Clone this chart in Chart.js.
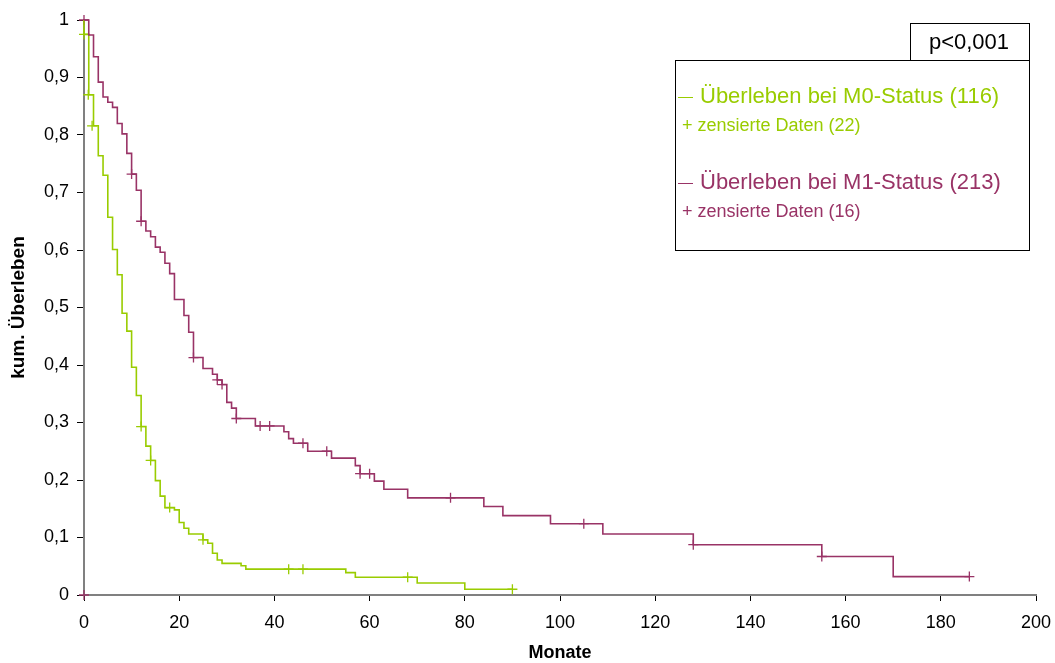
<!DOCTYPE html>
<html>
<head>
<meta charset="utf-8">
<script src="https://cdn.jsdelivr.net/npm/chart.js@4"></script>
<style>
  body { margin: 0; background: #fff; }
  #wrap { width: 1055px; height: 663px; }
</style>
</head>
<body>
<div id="wrap"><canvas id="chart1" width="1055" height="663"></canvas></div>
<script>
// Kaplan-Meier steps (months, cumulative survival after the step)
const m0Months = [0, 0, 1, 2, 3, 4, 5, 6, 7, 8, 9, 10, 11, 12, 13, 14, 15, 16, 17, 19, 20, 21, 22, 25, 26, 27, 28, 29, 33, 34, 55, 57, 70, 80, 90];
const m0Survival = [1, 0.975, 0.870, 0.816, 0.764, 0.730, 0.657, 0.601, 0.557, 0.490, 0.459, 0.396, 0.347, 0.293, 0.259, 0.234, 0.199, 0.172, 0.152, 0.148, 0.126, 0.116, 0.106, 0.096, 0.090, 0.0725, 0.061, 0.055, 0.051, 0.045, 0.039, 0.031, 0.021, 0.010, 0.010];
const m0CensorMonths = [0, 0.9, 1.7, 12, 14, 18, 25, 43, 46, 68, 90];
const m0CensorSurvival = [0.975, 0.870, 0.816, 0.293, 0.234, 0.152, 0.096, 0.045, 0.045, 0.031, 0.010];

const m1Months = [0, 1, 2, 3, 4, 5, 6, 7, 8, 9, 10, 11, 12, 13, 14, 15, 16, 17, 18, 19, 21, 22, 23, 25, 27, 28, 29, 30, 31, 32, 36, 42, 43, 44, 47, 52, 57, 58, 61, 63, 68, 84, 88, 98, 109, 128, 155, 170, 186];
const m1Survival = [1, 0.974, 0.936, 0.892, 0.866, 0.857, 0.848, 0.820, 0.802, 0.768, 0.732, 0.704, 0.650, 0.633, 0.623, 0.605, 0.596, 0.577, 0.559, 0.514, 0.486, 0.457, 0.413, 0.394, 0.384, 0.374, 0.366, 0.335, 0.325, 0.307, 0.294, 0.284, 0.272, 0.264, 0.250, 0.238, 0.225, 0.211, 0.198, 0.184, 0.169, 0.154, 0.138, 0.124, 0.106, 0.0875, 0.067, 0.032, 0.032];
const m1CensorMonths = [0, 0, 10, 12, 23, 28, 29, 32, 37, 39, 46, 51, 58, 60, 77, 105, 128, 155, 186];
const m1CensorSurvival = [1, 0, 0.732, 0.650, 0.413, 0.374, 0.366, 0.307, 0.294, 0.294, 0.264, 0.250, 0.211, 0.211, 0.169, 0.124, 0.0875, 0.067, 0.032];

const legendLines = [
  { main: 'Überleben bei M0-Status (116)', censor: '+ zensierte Daten (22)' },
  { main: 'Überleben bei M1-Status (213)', censor: '+ zensierte Daten (16)' }
];
const pValueText = 'p<0,001';

const GREEN = '#99cc00';
const PURPLE = '#993366';
const FONT = '"Liberation Sans", Arial, sans-serif';

function toPoints(xs, ys) {
  return xs.map((x, i) => ({ x: x, y: ys[i] }));
}

function stepSet(xs, ys, color) {
  return {
    type: 'line',
    data: toPoints(xs, ys),
    borderColor: color,
    borderWidth: 1.6,
    stepped: 'before',
    pointRadius: 0,
    fill: false,
    clip: false
  };
}

function censorSet(xs, ys, color) {
  return {
    type: 'scatter',
    data: toPoints(xs, ys),
    showLine: false,
    pointStyle: 'cross',
    pointRadius: 5,
    borderColor: color,
    borderWidth: 1.3,
    clip: false
  };
}

// legend box and p-value box, drawn like the original figure
const boxPlugin = {
  id: 'boxes',
  afterDraw(chart) {
    const ctx = chart.ctx;
    ctx.save();
    ctx.strokeStyle = '#000';
    ctx.lineWidth = 1;
    ctx.strokeRect(910.5, 23.5, 119, 37);
    ctx.strokeRect(675.5, 60.5, 354, 190);

    ctx.fillStyle = '#000';
    ctx.textBaseline = 'alphabetic';
    ctx.textAlign = 'center';
    ctx.font = '22px ' + FONT;
    ctx.fillText(pValueText, 969, 49);

    ctx.textAlign = 'left';
    const colors = [GREEN, PURPLE];
    const rows = [[97, 102.5, 131], [183, 188.5, 217]];
    legendLines.forEach((item, i) => {
      const [lineY, mainY, censorY] = rows[i];
      ctx.strokeStyle = colors[i];
      ctx.fillStyle = colors[i];
      ctx.lineWidth = 1;
      ctx.beginPath();
      ctx.moveTo(678, lineY + 0.5);
      ctx.lineTo(693, lineY + 0.5);
      ctx.stroke();
      ctx.font = '22px ' + FONT;
      ctx.fillText(item.main, 700, mainY);
      ctx.font = '18px ' + FONT;
      ctx.fillText(item.censor, 682, censorY);
    });
    ctx.restore();
  }
};

function formatY(v) {
  const r = Math.round(v * 10) / 10;
  if (r === 0) return '0';
  if (r === 1) return '1';
  return r.toFixed(1).replace('.', ',');
}

Chart.defaults.font.family = FONT;
Chart.defaults.color = '#000';

const survivalChart = new Chart(document.getElementById('chart1'), {
  data: {
    datasets: [
      stepSet(m1Months, m1Survival, PURPLE),
      stepSet(m0Months, m0Survival, GREEN),
      censorSet(m1CensorMonths, m1CensorSurvival, PURPLE),
      censorSet(m0CensorMonths, m0CensorSurvival, GREEN)
    ]
  },
  options: {
    responsive: false,
    animation: false,
    layout: { padding: { top: 20, right: 0, left: 0, bottom: 0 } },
    scales: {
      x: {
        type: 'linear',
        min: 0,
        max: 200,
        ticks: { stepSize: 20, font: { size: 18 }, padding: 11, maxRotation: 0 },
        grid: { drawOnChartArea: false, tickLength: 6, tickColor: '#000' },
        border: { color: '#808080', width: 2 },
        title: { display: true, text: 'Monate', font: { size: 18, weight: 'bold', lineHeight: 1 }, padding: { top: 0, bottom: 1 } },
        afterFit: (scale) => {
          scale.height = 68;
          scale.paddingRight = 19;
        }
      },
      y: {
        type: 'linear',
        min: 0,
        max: 1,
        ticks: { stepSize: 0.1, font: { size: 18 }, padding: 8, callback: formatY },
        grid: { drawOnChartArea: false, tickLength: 7, tickColor: '#000' },
        border: { color: '#808080', width: 2 },
        title: { display: true, text: 'kum. Überleben', font: { size: 19, weight: 'bold', lineHeight: 1 }, padding: { top: 9, bottom: 0 } },
        afterFit: (scale) => { scale.width = 84; }
      }
    },
    plugins: {
      legend: { display: false },
      tooltip: { enabled: false }
    }
  },
  plugins: [boxPlugin]
});
</script>
</body>
</html>
